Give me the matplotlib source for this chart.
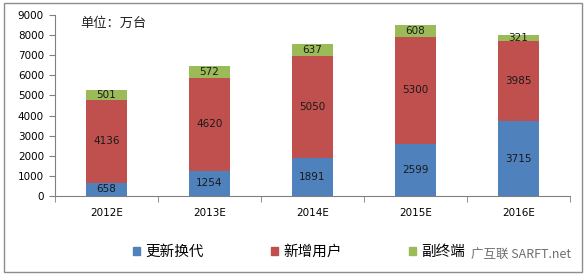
import matplotlib
matplotlib.use("Agg")
import matplotlib.pyplot as plt
from matplotlib.patches import Rectangle
import numpy as np

plt.rcParams['font.family'] = ['Noto Sans CJK SC', 'DejaVu Sans']

categories = ["2012E", "2013E", "2014E", "2015E", "2016E"]
replace = [658, 1254, 1891, 2599, 3715]
new_users = [4136, 4620, 5050, 5300, 3985]
secondary = [501, 572, 637, 608, 321]
series_names = ["更新换代", "新增用户", "副终端"]
colors = ["#4F81BD", "#C0504D", "#9BBB59"]
yticks = [0, 1000, 2000, 3000, 4000, 5000, 6000, 7000, 8000, 9000]

W, H = 587, 276
fig = plt.figure(figsize=(W / 100, H / 100), dpi=100)
fig.patches.append(Rectangle((4 / W, 4 / H), 578 / W, 269 / H, transform=fig.transFigure,
                             fill=False, edgecolor="#8c8c8c", linewidth=1.0))
ax = fig.add_axes([55 / W, 80 / H, 515 / W, 181 / H])

x = np.arange(len(categories))
w = 0.39
b1 = ax.bar(x, replace, w, color=colors[0], label=series_names[0])
b2 = ax.bar(x, new_users, w, bottom=replace, color=colors[1], label=series_names[1])
bot3 = np.array(replace) + np.array(new_users)
b3 = ax.bar(x, secondary, w, bottom=bot3, color=colors[2], label=series_names[2])

num_font = ['DejaVu Sans']
for vals, bots in [(replace, np.zeros(5)), (new_users, replace), (secondary, bot3)]:
    for xi, v, b in zip(x, vals, bots):
        ax.text(xi, b + v / 2, str(v), ha="center", va="center", fontsize=7.5,
                color="#1a1a1a", family=num_font)

ax.set_xlim(-0.5, 4.5)
ax.set_ylim(0, 9000)
ax.set_yticks(yticks)
ax.set_yticklabels([str(t) for t in yticks], fontsize=7.5, family=num_font)
ax.set_xticks(x)
ax.set_xticklabels(categories, fontsize=7.5, family=num_font)
ax.tick_params(axis="x", which="major", length=0, pad=9)
ax.set_xticks(np.arange(-0.5, 5.0, 1.0), minor=True)
ax.tick_params(axis="x", which="minor", length=4, color="#808080", direction="out")
ax.tick_params(axis="y", length=4, color="#808080", direction="out", pad=4)
for s in ["top", "right"]:
    ax.spines[s].set_visible(False)
ax.spines["left"].set_color("#808080")
ax.spines["bottom"].set_color("#808080")

fig.text(80 / W, 1 - 23 / H, "单位：万台", fontsize=9.5, ha="left", va="center", color="#222222")

handles = [Rectangle((0, 0), 1, 1, color=c) for c in colors]
fig.legend(handles, series_names, loc="center left", bbox_to_anchor=(133 / W, 1 - 252 / H), ncol=3,
           frameon=False, fontsize=10.5, handlelength=0.5, handleheight=0.5,
           columnspacing=4.6, handletextpad=0.35, borderpad=0, borderaxespad=0)

fig.text(471 / W, 1 - 254 / H, "广互联 SARFT.net", fontsize=9, color="#555555",
         ha="left", va="center", alpha=0.85)

fig.savefig("out.png", dpi=100)
